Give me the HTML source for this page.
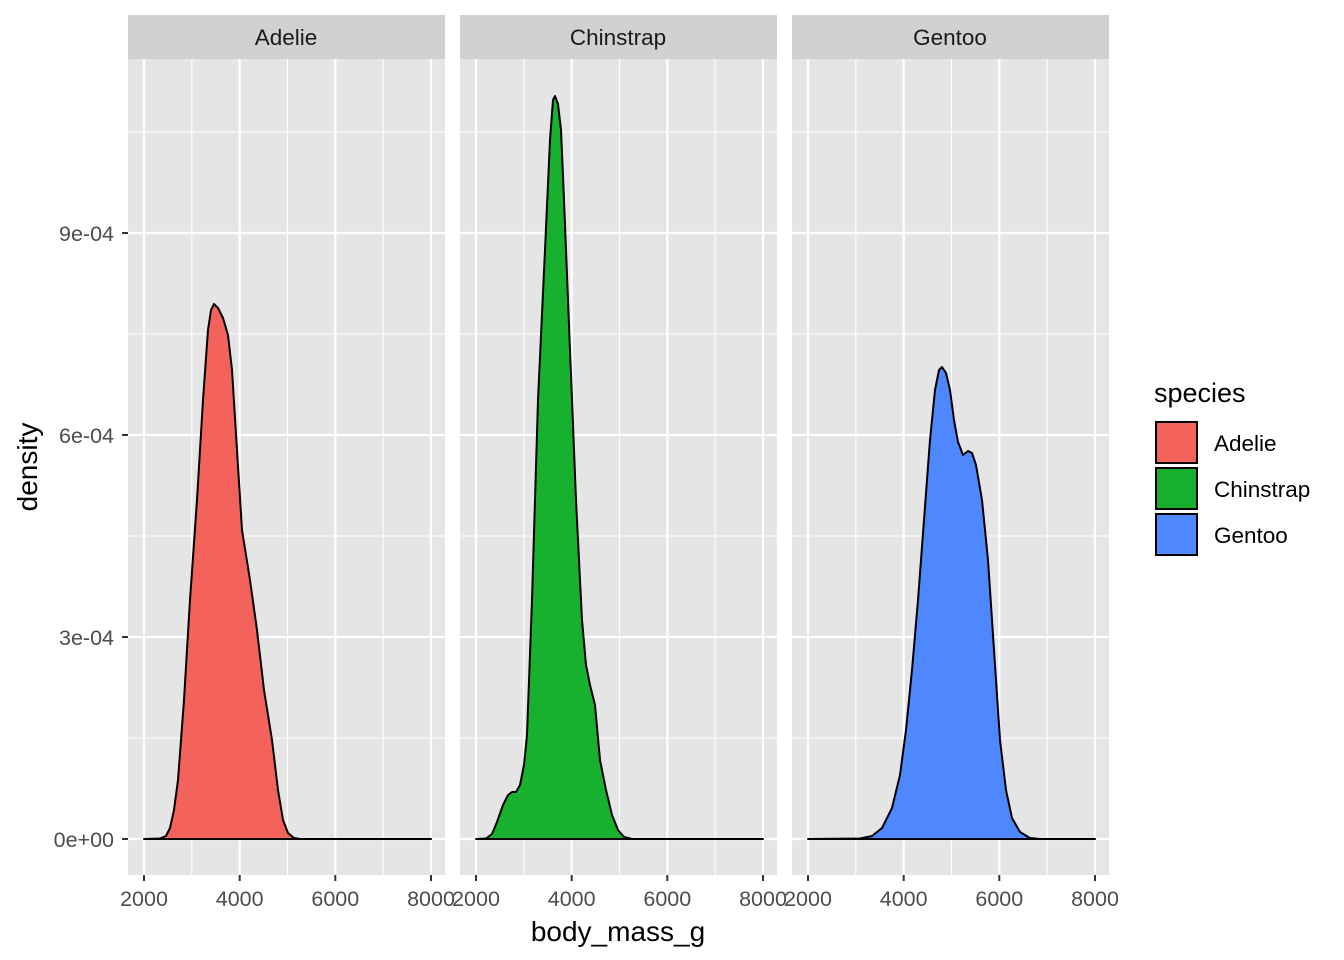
<!DOCTYPE html>
<html><head><style>body{margin:0;background:#fff}svg{display:block}text{font-family:"Liberation Sans",Arial,sans-serif}</style></head>
<body>
<svg width="1344" height="960" viewBox="0 0 1344 960" xmlns="http://www.w3.org/2000/svg">
<defs>
<g id="grid">
<rect x="0" y="59" width="317" height="816" fill="#E5E5E5"/>
<g stroke="#fff" stroke-width="1.1">
<line x1="0" x2="317" y1="738" y2="738"/><line x1="0" x2="317" y1="536" y2="536"/><line x1="0" x2="317" y1="334" y2="334"/><line x1="0" x2="317" y1="132" y2="132"/>
<line x1="63.8" x2="63.8" y1="59" y2="875"/><line x1="159.5" x2="159.5" y1="59" y2="875"/><line x1="255.2" x2="255.2" y1="59" y2="875"/>
</g>
<g stroke="#fff" stroke-width="2.2">
<line x1="0" x2="317" y1="839" y2="839"/><line x1="0" x2="317" y1="637" y2="637"/><line x1="0" x2="317" y1="435" y2="435"/><line x1="0" x2="317" y1="233" y2="233"/>
<line x1="16" x2="16" y1="59" y2="875"/><line x1="111.7" x2="111.7" y1="59" y2="875"/><line x1="207.3" x2="207.3" y1="59" y2="875"/><line x1="303" x2="303" y1="59" y2="875"/>
</g>
<rect x="0" y="15" width="317" height="44" fill="#D1D1D1"/>
<g stroke="#333" stroke-width="2"><line x1="16" x2="16" y1="875" y2="881"/><line x1="111.7" x2="111.7" y1="875" y2="881"/><line x1="207.3" x2="207.3" y1="875" y2="881"/><line x1="303" x2="303" y1="875" y2="881"/></g>
<g font-size="21.5" fill="#4D4D4D" text-anchor="middle"><text x="16" y="906">2000</text><text x="111.7" y="906">4000</text><text x="207.3" y="906">6000</text><text x="303" y="906">8000</text></g>
</g>
</defs>
<use href="#grid" x="128"/><use href="#grid" x="460"/><use href="#grid" x="792"/>
<g font-size="22.5" fill="#1A1A1A" text-anchor="middle"><text x="286" y="45">Adelie</text><text x="618" y="45">Chinstrap</text><text x="950" y="45">Gentoo</text></g>
<g stroke="#333" stroke-width="2"><line x1="122" x2="128" y1="839" y2="839"/><line x1="122" x2="128" y1="637" y2="637"/><line x1="122" x2="128" y1="435" y2="435"/><line x1="122" x2="128" y1="233" y2="233"/></g>
<g font-size="21.5" fill="#4D4D4D" text-anchor="end"><text x="114" y="847">0e+00</text><text x="114" y="645">3e-04</text><text x="114" y="443">6e-04</text><text x="114" y="241">9e-04</text></g>
<text x="618" y="941" font-size="28" text-anchor="middle" fill="#000">body_mass_g</text>
<text transform="translate(37,467) rotate(-90)" font-size="28" text-anchor="middle" fill="#000">density</text>
<g stroke="#000" stroke-width="2" stroke-linejoin="round">
<path fill="#F4625C" d="M144,839 L160,838.5 L166,836 L170,828 L174,810 L178,780 L184,700 L190,600 L197,500 L203,400 L208,330 L211,310 L214,304 L218,308 L223,318 L228,335 L232,370 L237,450 L242,530 L250,580 L257,630 L264,690 L272,740 L278,790 L283,820 L288,833 L294,838 L300,839 L431,839 Z"/>
<path fill="#18B02F" d="M476,839 L486,838.5 L492,834 L497,822 L503,805 L508,795 L512,792 L516,792 L520,785 L524,765 L527,735 L532,600 L538,400 L545,250 L550,140 L553,100 L555,96 L558,104 L561,130 L564,200 L570,350 L576,500 L582,620 L586,665 L590,685 L595,705 L600,760 L606,790 L612,815 L618,830 L624,837 L632,839 L763,839 Z"/>
<path fill="#4F87FF" d="M808,839 L860,838.5 L872,836 L882,828 L892,808 L900,775 L906,730 L912,670 L918,600 L924,520 L930,440 L935,390 L939,370 L942,367 L946,373 L950,390 L954,420 L958,442 L963,455 L968,451 L972,453 L976,465 L982,500 L988,560 L994,650 L1000,740 L1006,790 L1012,818 L1020,832 L1030,838 L1040,839 L1095,839 Z"/>
</g>
<text x="1154" y="402" font-size="27" fill="#000">species</text>
<g stroke="#000" stroke-width="2"><rect x="1156" y="422" width="41" height="41" fill="#F4625C"/><rect x="1156" y="468" width="41" height="41" fill="#18B02F"/><rect x="1156" y="514" width="41" height="41" fill="#4F87FF"/></g>
<g font-size="22.5" fill="#000"><text x="1214" y="451">Adelie</text><text x="1214" y="497">Chinstrap</text><text x="1214" y="543">Gentoo</text></g>
</svg>
</body></html>
